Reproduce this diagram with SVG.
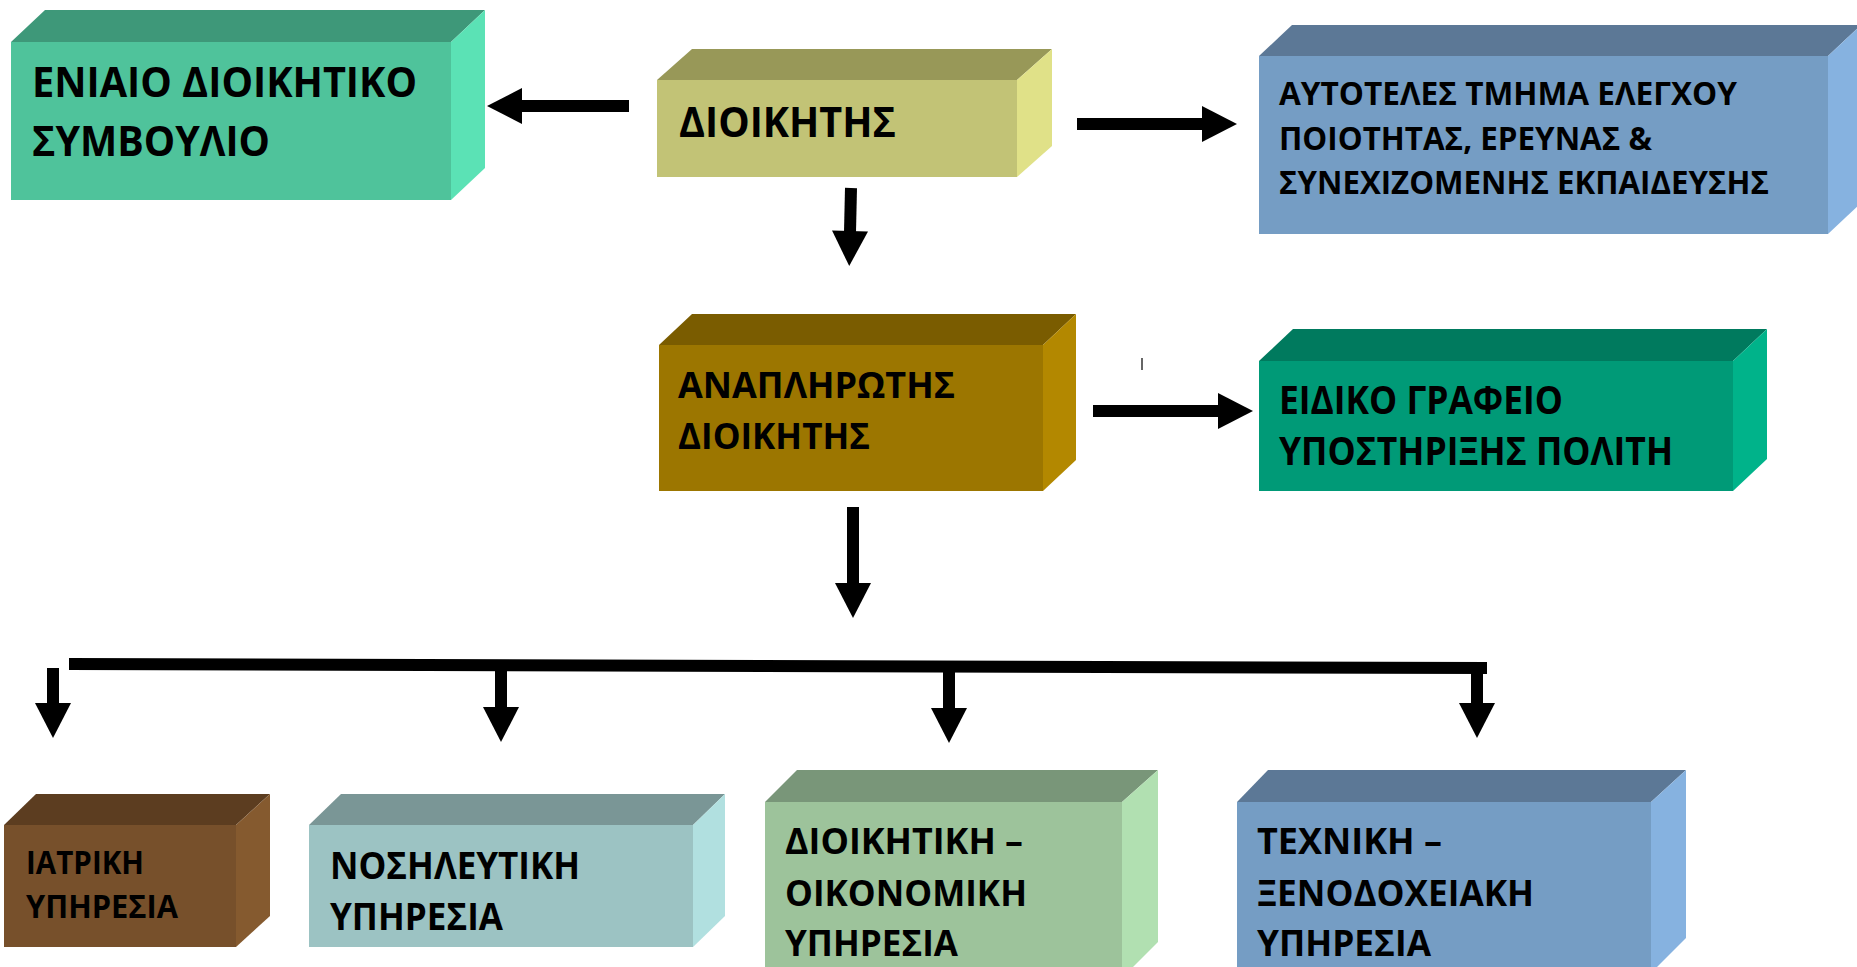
<svg xmlns="http://www.w3.org/2000/svg" width="1857" height="967" viewBox="0 0 1857 967">
<style>
text{font-family:"Open Sans","Noto Sans","DejaVu Sans",sans-serif;font-weight:bold;fill:#000;}
.conn{stroke:#000;stroke-width:12;fill:none;}
</style>
<defs>
<marker id="ah" markerUnits="userSpaceOnUse" viewBox="0 -18 36 36" markerWidth="36" markerHeight="36" refX="1" refY="0" orient="auto" overflow="visible">
<path d="M0,-18 L35,0 L0,18 Z" fill="#000"/>
</marker>
</defs>
<rect width="1857" height="967" fill="#fff"/>

<g id="connectors">
<line class="conn" x1="629" y1="106" x2="521" y2="106" marker-end="url(#ah)"/>
<line class="conn" x1="1077" y1="124" x2="1203" y2="124" marker-end="url(#ah)"/>
<line class="conn" x1="851" y1="188" x2="850" y2="232" marker-end="url(#ah)"/>
<line class="conn" x1="1093" y1="411" x2="1219" y2="411" marker-end="url(#ah)"/>
<line class="conn" x1="853" y1="507" x2="853" y2="584" marker-end="url(#ah)"/>
<line class="conn" x1="69" y1="664" x2="1487" y2="668"/>
<line class="conn" x1="53" y1="668" x2="53" y2="704" marker-end="url(#ah)"/>
<line class="conn" x1="501" y1="670" x2="501" y2="708" marker-end="url(#ah)"/>
<line class="conn" x1="949" y1="670" x2="949" y2="709" marker-end="url(#ah)"/>
<line class="conn" x1="1477" y1="668" x2="1477" y2="704" marker-end="url(#ah)"/>
<line x1="1142" y1="358" x2="1142" y2="370" stroke="#333" stroke-width="1.5"/>
</g>

<g id="n1">
<polygon points="11,42 45,10 485,10 451,42" fill="#3E9879"/>
<polygon points="451,42 485,10 485,168 451,200" fill="#5BE2B5"/>
<rect x="11" y="42" width="440" height="158" fill="#4FC39B"/>
<text x="32" y="97" font-size="41" textLength="385" lengthAdjust="spacingAndGlyphs">ΕΝΙΑΙΟ ΔΙΟΙΚΗΤΙΚΟ</text>
<text x="32" y="156" font-size="41" textLength="238" lengthAdjust="spacingAndGlyphs">ΣΥΜΒΟΥΛΙΟ</text>
</g>

<g id="n2">
<polygon points="657,80 692,49 1052,49 1017,80" fill="#989858"/>
<polygon points="1017,80 1052,49 1052,146 1017,177" fill="#E0E188"/>
<rect x="657" y="80" width="360" height="97" fill="#C2C376"/>
<text x="679" y="137" font-size="42" textLength="217" lengthAdjust="spacingAndGlyphs">ΔΙΟΙΚΗΤΗΣ</text>
</g>

<g id="n3">
<polygon points="1259,56 1292,25 1861,25 1828,56" fill="#5C7896"/>
<polygon points="1828,56 1861,25 1861,203 1828,234" fill="#86B2E0"/>
<rect x="1259" y="56" width="569" height="178" fill="#759DC4"/>
<text x="1279" y="105" font-size="32" textLength="458" lengthAdjust="spacingAndGlyphs">ΑΥΤΟΤΕΛΕΣ ΤΜΗΜΑ ΕΛΕΓΧΟΥ</text>
<text x="1279" y="150" font-size="32" textLength="373" lengthAdjust="spacingAndGlyphs">ΠΟΙΟΤΗΤΑΣ, ΕΡΕΥΝΑΣ &amp;</text>
<text x="1279" y="194" font-size="32" textLength="490" lengthAdjust="spacingAndGlyphs">ΣΥΝΕΧΙΖΟΜΕΝΗΣ ΕΚΠΑΙΔΕΥΣΗΣ</text>
</g>

<g id="n4">
<polygon points="659,345 692,314 1076,314 1043,345" fill="#7A5C00"/>
<polygon points="1043,345 1076,314 1076,460 1043,491" fill="#B38800"/>
<rect x="659" y="345" width="384" height="146" fill="#9C7600"/>
<text x="678" y="398" font-size="36" textLength="277" lengthAdjust="spacingAndGlyphs">ΑΝΑΠΛΗΡΩΤΗΣ</text>
<text x="678" y="449" font-size="36" textLength="192" lengthAdjust="spacingAndGlyphs">ΔΙΟΙΚΗΤΗΣ</text>
</g>

<g id="n5">
<polygon points="1259,361 1293,329 1767,329 1733,361" fill="#007A5E"/>
<polygon points="1733,361 1767,329 1767,459 1733,491" fill="#00B38A"/>
<rect x="1259" y="361" width="474" height="130" fill="#009A77"/>
<text x="1279" y="414" font-size="39" textLength="284" lengthAdjust="spacingAndGlyphs">ΕΙΔΙΚΟ ΓΡΑΦΕΙΟ</text>
<text x="1279" y="465" font-size="39" textLength="394" lengthAdjust="spacingAndGlyphs">ΥΠΟΣΤΗΡΙΞΗΣ ΠΟΛΙΤΗ</text>
</g>

<g id="n6">
<polygon points="4,825 36,794 270,794 236,825" fill="#5C3D20"/>
<polygon points="236,825 270,794 270,916 236,947" fill="#855A2F"/>
<rect x="4" y="825" width="232" height="122" fill="#77502B"/>
<text x="26" y="874" font-size="33" textLength="118" lengthAdjust="spacingAndGlyphs">ΙΑΤΡΙΚΗ</text>
<text x="26" y="918" font-size="33" textLength="152" lengthAdjust="spacingAndGlyphs">ΥΠΗΡΕΣΙΑ</text>
</g>

<g id="n7">
<polygon points="309,825 341,794 725,794 693,825" fill="#7A9696"/>
<polygon points="693,825 725,794 725,916 693,947" fill="#B1E0E0"/>
<rect x="309" y="825" width="384" height="122" fill="#9CC3C3"/>
<text x="330" y="879" font-size="38" textLength="250" lengthAdjust="spacingAndGlyphs">ΝΟΣΗΛΕΥΤΙΚΗ</text>
<text x="330" y="930" font-size="38" textLength="173" lengthAdjust="spacingAndGlyphs">ΥΠΗΡΕΣΙΑ</text>
</g>

<g id="n8">
<polygon points="765,802 797,770 1158,770 1122,802" fill="#799679"/>
<polygon points="1122,802 1158,770 1158,942 1122,978" fill="#B1E0B1"/>
<rect x="765" y="802" width="357" height="176" fill="#9DC39B"/>
<text x="785" y="854" font-size="35" textLength="238" lengthAdjust="spacingAndGlyphs">ΔΙΟΙΚΗΤΙΚΗ –</text>
<text x="785" y="906" font-size="35" textLength="242" lengthAdjust="spacingAndGlyphs">ΟΙΚΟΝΟΜΙΚΗ</text>
<text x="785" y="956" font-size="35" textLength="173" lengthAdjust="spacingAndGlyphs">ΥΠΗΡΕΣΙΑ</text>
</g>

<g id="n9">
<polygon points="1237,802 1268,770 1686,770 1651,802" fill="#5C7896"/>
<polygon points="1651,802 1686,770 1686,938 1651,973" fill="#86B2E0"/>
<rect x="1237" y="802" width="414" height="176" fill="#759DC4"/>
<text x="1257" y="854" font-size="35" textLength="185" lengthAdjust="spacingAndGlyphs">ΤΕΧΝΙΚΗ –</text>
<text x="1257" y="906" font-size="35" textLength="277" lengthAdjust="spacingAndGlyphs">ΞΕΝΟΔΟΧΕΙΑΚΗ</text>
<text x="1257" y="956" font-size="35" textLength="174" lengthAdjust="spacingAndGlyphs">ΥΠΗΡΕΣΙΑ</text>
</g>
</svg>
